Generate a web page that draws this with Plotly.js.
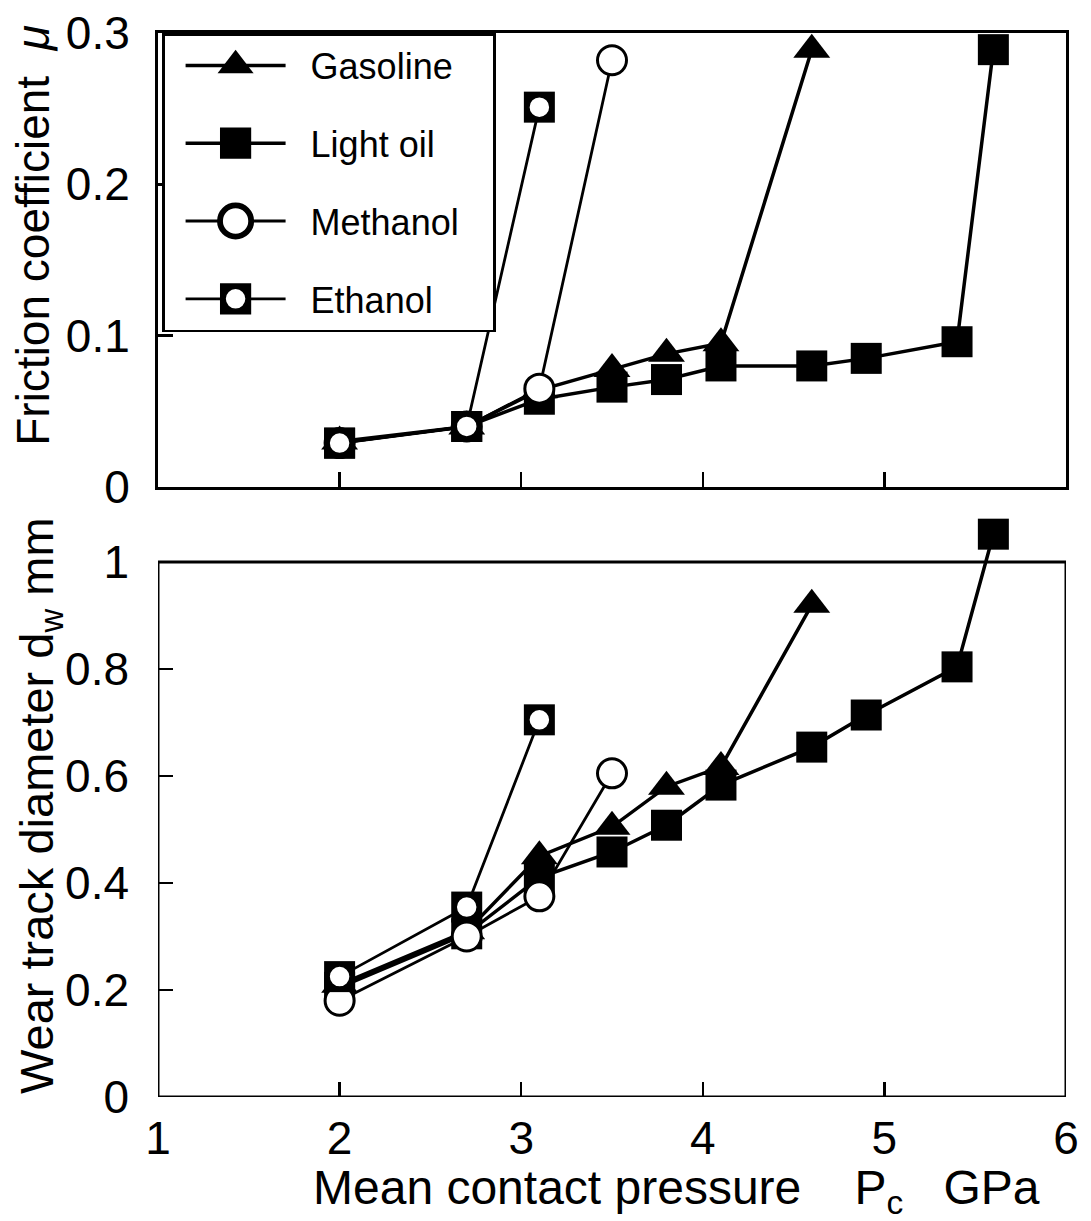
<!DOCTYPE html>
<html>
<head>
<meta charset="utf-8">
<script src="https://cdn.plot.ly/plotly-3.0.1.min.js"></script>
<style>
  html, body { margin: 0; padding: 0; background: #fff; }
  #chart { width: 1091px; height: 1221px; }
</style>
</head>
<body>
<div id="chart"></div>
<script>
// ---- data ----
const seriesNames = ['Gasoline', 'Light oil', 'Methanol', 'Ethanol'];

// Mean contact pressure Pc, GPa
const pcGasoline = [2, 2.7, 3.1, 3.5, 3.8, 4.1, 4.6];
const pcLightOil = [2, 2.7, 3.1, 3.5, 3.8, 4.1, 4.6, 4.9, 5.4, 5.6];
const pcMethanol = [2, 2.7, 3.1, 3.5];
const pcEthanol  = [2, 2.7, 3.1];

// Friction coefficient mu
const muGasoline = [0.030, 0.040, 0.064, 0.078, 0.088, 0.095, 0.289];
const muLightOil = [0.029, 0.040, 0.058, 0.066, 0.071, 0.080, 0.080, 0.085, 0.096, 0.289];
const muMethanol = [0.029, 0.040, 0.065, 0.282];
const muEthanol  = [0.029, 0.040, 0.251];

// Wear track diameter dw, mm
const dwGasoline = [0.210, 0.310, 0.450, 0.505, 0.580, 0.617, 0.920];
const dwLightOil = [0.205, 0.305, 0.410, 0.458, 0.508, 0.583, 0.654, 0.714, 0.804, 1.052];
const dwMethanol = [0.180, 0.300, 0.375, 0.605];
const dwEthanol  = [0.225, 0.355, 0.705];

// axis ticks
const xTickVals = [1, 2, 3, 4, 5, 6];
const xTickText = ['1', '2', '3', '4', '5', '6'];
const muTickVals = [0, 0.1, 0.2, 0.3];
const muTickText = ['0', '0.1', '0.2', '0.3'];
const dwTickVals = [0, 0.2, 0.4, 0.6, 0.8, 1.0];
const dwTickText = ['0', '0.2', '0.4', '0.6', '0.8', '1'];

// ---- styles ----
const BLACK = '#000000';
const FONT = 'Liberation Sans, Arial, Helvetica, sans-serif';
const NB = '\u00a0';

function series(name, x, y, ax, marker, lw, showlegend) {
  return {
    type: 'scatter', mode: 'lines+markers', name: name,
    legendgroup: name, showlegend: showlegend,
    x: x, y: y, xaxis: ax[0], yaxis: ax[1],
    line: { color: BLACK, width: lw },
    marker: marker, cliponaxis: false, hoverinfo: 'x+y+name'
  };
}
function overlay(name, x, y, ax) {
  return {
    type: 'scatter', mode: 'markers', name: name, legendgroup: name,
    showlegend: false, x: x, y: y, xaxis: ax[0], yaxis: ax[1],
    marker: { symbol: 'circle', size: 21, color: '#ffffff', line: { color: BLACK, width: 1.5 } },
    cliponaxis: false, hoverinfo: 'skip'
  };
}
const mGas = { symbol: 'triangle-up', size: 32, color: BLACK, line: { width: 0 } };
const mOil = { symbol: 'square', size: 31, color: BLACK, line: { width: 0 } };
const mMeth = { symbol: 'circle', size: 29, color: '#ffffff', line: { color: BLACK, width: 3 } };
const mEth = { symbol: 'square', size: 31, color: BLACK, line: { width: 0 } };

const axTop = ['x2', 'y2'];
const axBot = ['x', 'y'];

const data = [
  series(seriesNames[0], pcGasoline, muGasoline, axTop, mGas, 3.5, true),
  series(seriesNames[1], pcLightOil, muLightOil, axTop, mOil, 3.5, true),
  series(seriesNames[2], pcMethanol, muMethanol, axTop, mMeth, 2.8, true),
  series(seriesNames[3], pcEthanol, muEthanol, axTop, mEth, 2.8, true),
  overlay(seriesNames[3], pcEthanol, muEthanol, axTop),
  series(seriesNames[0], pcGasoline, dwGasoline, axBot, mGas, 3.5, false),
  series(seriesNames[1], pcLightOil, dwLightOil, axBot, mOil, 3.5, false),
  series(seriesNames[2], pcMethanol, dwMethanol, axBot, mMeth, 2.8, false),
  series(seriesNames[3], pcEthanol, dwEthanol, axBot, mEth, 2.8, false),
  overlay(seriesNames[3], pcEthanol, dwEthanol, axBot)
];

const tickFont = { family: FONT, size: 46, color: BLACK };
const titleFont = { family: FONT, size: 46, color: BLACK };

const layout = {
  width: 1091, height: 1221,
  margin: { l: 158, r: 25, t: 33, b: 124, pad: 0 },
  paper_bgcolor: '#ffffff', plot_bgcolor: '#ffffff',
  font: { family: FONT, color: BLACK },
  showlegend: true,
  legend: {
    x: 0.0045, y: 1, xanchor: 'left', yanchor: 'top',
    bgcolor: '#ffffff', bordercolor: BLACK, borderwidth: 2.5,
    font: { family: FONT, size: 36, color: BLACK },
    traceorder: 'grouped', tracegroupgap: 28, itemwidth: 100
  },
  xaxis: {
    domain: [0, 1], range: [1, 6], anchor: 'y',
    tickmode: 'array', tickvals: xTickVals, ticktext: xTickText,
    ticks: 'inside', ticklen: 15, tickwidth: 2.5, tickcolor: BLACK,
    tickfont: tickFont, showgrid: false, zeroline: false, showline: false,
    ticklabelstandoff: 10
  },
  yaxis: {
    domain: [0, 0.5531], range: [0, 1.1], anchor: 'x',
    tickmode: 'array', tickvals: dwTickVals, ticktext: dwTickText,
    ticks: 'inside', ticklen: 15, tickwidth: 2.5, tickcolor: BLACK,
    tickfont: tickFont, showgrid: false, zeroline: false, showline: false,
    ticklabelstandoff: 28
  },
  xaxis2: {
    domain: [0, 1], range: [1, 6], anchor: 'y2', matches: 'x',
    tickmode: 'array', tickvals: xTickVals, ticktext: xTickText, showticklabels: false,
    ticks: 'inside', ticklen: 15, tickwidth: 2.5, tickcolor: BLACK,
    showgrid: false, zeroline: false, showline: true, linewidth: 3, linecolor: BLACK, mirror: true
  },
  yaxis2: {
    domain: [0.5733, 1], range: [0, 0.3], anchor: 'x2',
    tickmode: 'array', tickvals: muTickVals, ticktext: muTickText,
    ticks: 'inside', ticklen: 15, tickwidth: 2.5, tickcolor: BLACK,
    tickfont: tickFont, showgrid: false, zeroline: false,
    showline: true, linewidth: 3, linecolor: BLACK, mirror: true,
    ticklabelstandoff: 16
  },
  shapes: [
    { type: 'rect', xref: 'x', yref: 'y', x0: 1, x1: 6, y0: 0, y1: 1,
      line: { color: BLACK, width: 3 }, layer: 'below' }
  ],
  annotations: [
    { text: 'Friction coefficient' + NB + NB + '<i>μ</i>', xref: 'paper', yref: 'paper',
      x: -0.137, y: 0.81, xanchor: 'center', yanchor: 'middle', textangle: -90, showarrow: false,
      font: titleFont },
    { text: 'Wear track diameter d<sub>w</sub> mm', xref: 'paper', yref: 'paper',
      x: -0.13, y: 0.2744, xanchor: 'center', yanchor: 'middle', textangle: -90, showarrow: false,
      font: { family: FONT, size: 47, color: BLACK } },
    { text: 'Mean contact pressure ' + NB + NB + NB + 'P<sub>c</sub>' + NB + NB + NB + 'GPa', xref: 'paper', yref: 'paper',
      x: 0.5705, y: -0.088, xanchor: 'center', yanchor: 'middle', showarrow: false,
      font: { family: FONT, size: 48, color: BLACK } }
  ]
};

Plotly.newPlot('chart', data, layout, { staticPlot: true }).then(function (gd) {
  const legend = gd.querySelector('.legend');
  if (!legend) return;
  const scroll = legend.querySelector('.scrollbox');
  if (scroll) scroll.removeAttribute('clip-path');
  const bg = legend.querySelector('rect.bg');
  if (bg) {
    const w = parseFloat(bg.getAttribute('width'));
    bg.setAttribute('width', Math.max(w, 331));
  }
  const items = legend.querySelectorAll('.traces');
  items.forEach(function (item) {
    item.querySelectorAll('.legendpoints, .legendlines').forEach(function (g) {
      g.setAttribute('transform', 'translate(16,0)');
    });
    const txt = item.querySelector('text.legendtext');
    if (txt) {
      const x = parseFloat(txt.getAttribute('x')) || 0;
      txt.setAttribute('x', x + 36);
    }
    const pts = item.querySelectorAll('.legendpoints path.scatterpts');
    pts.forEach(function (p) {
      const t = p.getAttribute('transform') || '';
      p.setAttribute('transform', t + ' scale(1.95)');
    });
    if (txt && txt.textContent.trim() === seriesNames[3] && pts.length) {
      const c = pts[0].cloneNode(false);
      c.setAttribute('d', 'M5.4,0A5.4,5.4 0 1,1 0,-5.4A5.4,5.4 0 0,1 5.4,0Z');
      c.style.fill = '#ffffff';
      c.style.stroke = BLACK;
      c.style.strokeWidth = '0.8px';
      c.style.opacity = 1;
      pts[0].parentNode.appendChild(c);
    }
  });
});
</script>
</body>
</html>
